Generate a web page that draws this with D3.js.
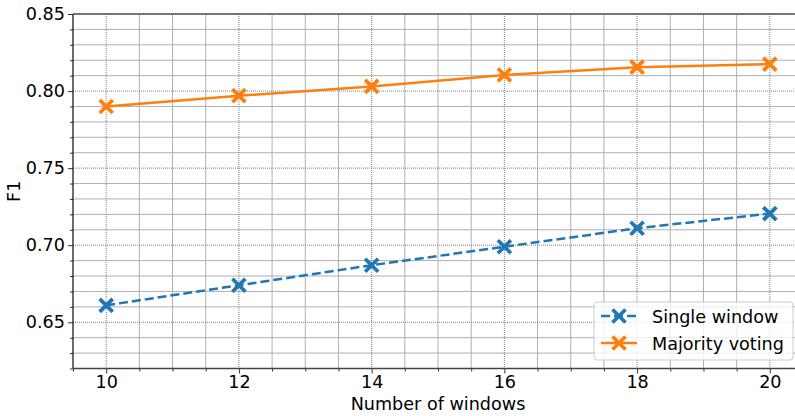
<!DOCTYPE html>
<html>
<head>
<meta charset="utf-8">
<script src="https://cdnjs.cloudflare.com/ajax/libs/d3/7.8.5/d3.min.js"></script>
<style>
body { margin: 0; background: #fff; }
text { font-family: "DejaVu Sans", sans-serif; fill: #000; }
</style>
</head>
<body>
<div id="chart"></div>
<script>
var windows = [10, 12, 14, 16, 18, 20];
var singleWindow = [0.661, 0.674, 0.687, 0.699, 0.711, 0.7205];
var majorityVoting = [0.790, 0.797, 0.803, 0.8105, 0.8155, 0.8175];
var xTicks = [10, 12, 14, 16, 18, 20];
var yTicks = [0.65, 0.70, 0.75, 0.80, 0.85];

var W = 795, H = 416;
var mLeft = 73, mTop = 14, mRight = 803, mBottom = 368.5;
var fs = "17.6px";

var svg = d3.select("#chart").append("svg")
    .attr("width", W)
    .attr("height", H);

var x = d3.scaleLinear().domain([9.5, 20.5]).range([mLeft, mRight]);
var y = d3.scaleLinear().domain([0.62, 0.85]).range([mBottom, mTop]);

// minor grid (solid)
var xMinor = d3.range(9.5, 20.51, 0.5).filter(function(v) { return Math.abs(v % 2) > 1e-6; });
var yMinor = d3.range(62, 85.1, 1).map(function(v) { return v / 100; })
    .filter(function(v) { return yTicks.indexOf(+v.toFixed(2)) < 0; });

var grid = svg.append("g").attr("class", "grid");
grid.selectAll("line.xm").data(xMinor).enter().append("line")
    .attr("x1", function(d) { return x(d); }).attr("x2", function(d) { return x(d); })
    .attr("y1", mTop).attr("y2", mBottom)
    .attr("stroke", "#b0b0b0").attr("stroke-width", 1);
grid.selectAll("line.ym").data(yMinor).enter().append("line")
    .attr("y1", function(d) { return y(d); }).attr("y2", function(d) { return y(d); })
    .attr("x1", mLeft).attr("x2", mRight)
    .attr("stroke", "#b0b0b0").attr("stroke-width", 1);

// major grid (dotted)
grid.selectAll("line.xM").data(xTicks).enter().append("line")
    .attr("x1", function(d) { return x(d); }).attr("x2", function(d) { return x(d); })
    .attr("y1", mTop).attr("y2", mBottom)
    .attr("stroke", "#808080").attr("stroke-width", 1).attr("stroke-dasharray", "1,1");
grid.selectAll("line.yM").data(yTicks).enter().append("line")
    .attr("y1", function(d) { return y(d); }).attr("y2", function(d) { return y(d); })
    .attr("x1", mLeft).attr("x2", mRight)
    .attr("stroke", "#808080").attr("stroke-width", 1).attr("stroke-dasharray", "1,1");

// axes
var xAxis = svg.append("g")
    .attr("transform", "translate(0," + mBottom + ")")
    .call(d3.axisBottom(x).tickValues(xTicks).tickSize(5).tickPadding(2).tickFormat(d3.format("d")));
var yAxis = svg.append("g")
    .attr("transform", "translate(" + mLeft + ",0)")
    .call(d3.axisLeft(y).tickValues(yTicks).tickSize(5).tickPadding(3).tickFormat(d3.format(".2f")));

// minor ticks
svg.append("g").attr("transform", "translate(0," + mBottom + ")")
    .call(d3.axisBottom(x).tickValues(xMinor).tickSize(3).tickFormat(""))
    .select(".domain").remove();
svg.append("g").attr("transform", "translate(" + mLeft + ",0)")
    .call(d3.axisLeft(y).tickValues(yMinor).tickSize(3).tickFormat(""))
    .select(".domain").remove();

[xAxis, yAxis].forEach(function(a) {
    a.select(".domain").remove();
    a.attr("font-size", null).attr("font-family", null);
    a.selectAll("text").style("font-size", fs).style("font-family", "DejaVu Sans, sans-serif");
});
svg.selectAll(".tick line").attr("stroke", "#000").attr("stroke-width", 0.8);

// spines
svg.append("line").attr("x1", mLeft).attr("x2", mLeft).attr("y1", mTop).attr("y2", mBottom)
    .attr("stroke", "#000").attr("stroke-width", 1);
svg.append("line").attr("x1", mLeft).attr("x2", mRight).attr("y1", mBottom).attr("y2", mBottom)
    .attr("stroke", "#444").attr("stroke-width", 1.6);
svg.append("line").attr("x1", mLeft).attr("x2", mRight).attr("y1", mTop).attr("y2", mTop)
    .attr("stroke", "#555").attr("stroke-width", 1.6);

// axis labels
svg.append("text")
    .attr("x", (mLeft + mRight) / 2).attr("y", 410)
    .attr("text-anchor", "middle").style("font-size", fs)
    .text("Number of windows");
svg.append("text")
    .attr("transform", "translate(20," + ((mTop + mBottom) / 2) + ") rotate(-90)")
    .attr("text-anchor", "middle").style("font-size", fs)
    .text("F1");

// series
var series = [
    { name: "Single window", values: singleWindow, color: "#1f77b4", dash: "9,4" },
    { name: "Majority voting", values: majorityVoting, color: "#ff7f0e", dash: null }
];

var line = d3.line()
    .x(function(d, i) { return x(windows[i]); })
    .y(function(d) { return y(d); });

function marker(g, cx, cy, color) {
    var s = 6.5;
    g.append("path")
        .attr("d", "M" + (cx - s) + "," + (cy - s) + "L" + (cx + s) + "," + (cy + s) +
                   "M" + (cx - s) + "," + (cy + s) + "L" + (cx + s) + "," + (cy - s))
        .attr("stroke", color).attr("stroke-width", 3.8).attr("fill", "none");
}

series.forEach(function(s) {
    var g = svg.append("g");
    g.append("path")
        .datum(s.values)
        .attr("d", line)
        .attr("fill", "none")
        .attr("stroke", s.color)
        .attr("stroke-width", 2.5)
        .attr("stroke-dasharray", s.dash);
    s.values.forEach(function(v, i) {
        marker(g, x(windows[i]), y(v), s.color);
    });
});

// legend
var lg = svg.append("g");
lg.append("rect")
    .attr("x", 594).attr("y", 302).attr("width", 199).attr("height", 58)
    .attr("rx", 3).attr("fill", "#fff").attr("fill-opacity", 0.8)
    .attr("stroke", "#ccc").attr("stroke-width", 1);
series.forEach(function(s, i) {
    var cy = 316 + i * 27;
    lg.append("line")
        .attr("x1", 601).attr("x2", 637).attr("y1", cy).attr("y2", cy)
        .attr("stroke", s.color).attr("stroke-width", 2.5)
        .attr("stroke-dasharray", s.dash);
    marker(lg, 619, cy, s.color);
    lg.append("text")
        .attr("x", 652).attr("y", cy + 7)
        .style("font-size", fs)
        .text(s.name);
});
</script>
</body>
</html>
